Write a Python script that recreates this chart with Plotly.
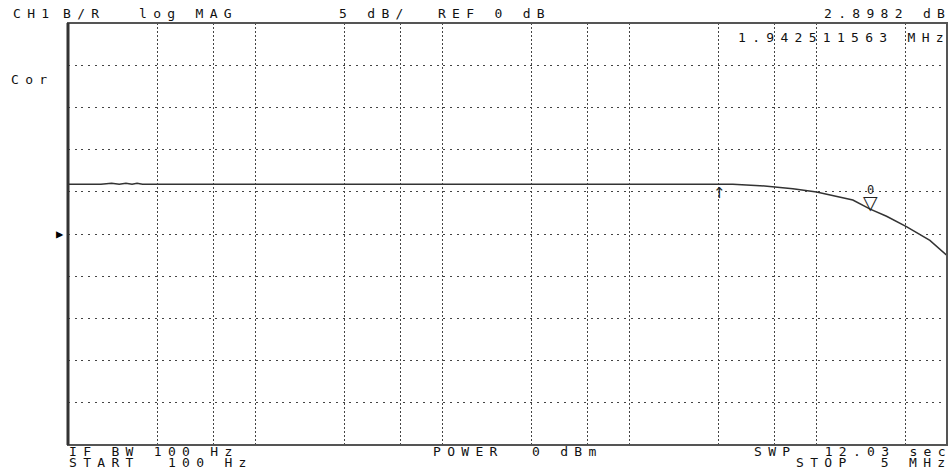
import math
import plotly.graph_objects as go

# ---------------- data ----------------
freq_hz = [100, 150, 171, 188, 204, 220, 234, 250, 1000, 10000, 100000,
           358000, 500000, 601000, 750000, 1004000, 1569000, 1942511,
           2376000, 3050000, 4050000, 5000000]
mag_db = [5.90, 5.90, 6.02, 5.90, 6.02, 5.90, 6.02, 5.90, 5.90, 5.90, 5.90,
          5.88, 5.73, 5.59, 5.37, 4.98, 4.03, 2.95,
          2.10, 0.85, -0.75, -2.55]

x_grid_hz = [300, 600, 1e3, 3e3, 6e3, 1e4, 3e4, 6e4, 1e5, 3e5, 6e5, 1e6, 3e6]
start_hz = 100
stop_hz = 5e6
ref_db = 0
scale_db = 5
n_div = 10
marker_freq_hz = 1942511.563
marker_db = 2.8982
ref_marker_hz = 305000
ref_marker_db = 5.90

# ---------------- layout geometry ----------------
W, H = 949, 473
L, R, T, B = 68, 2, 23, 28
PW, PH = W - L - R, H - T - B
FONT = "DejaVu Sans Mono"
TXT = "#111111"


def paper(px, py):
    return (px - L) / PW, (H - B - py) / PH


status_texts = [
    ("CH1", 12, 13), ("B/R", 62, 13), ("log MAG", 138, 13),
    (f"{scale_db} dB/  REF {ref_db} dB", 338, 13),
    (f"{marker_db:.4f} dB", 823, 13),
    (f"{marker_freq_hz/1e6:.9f} MHz", 737, 38),
    ("Cor", 10, 79),
    ("IF BW 100 Hz", 68, 451), ("POWER  0 dBm", 432, 451),
    ("SWP  12.03 sec", 753, 451),
    (f"START  {start_hz} Hz", 68, 462), (f"STOP  {stop_hz/1e6:g} MHz", 795, 462),
]

fig = go.Figure()
fig.add_trace(go.Scatter(
    x=freq_hz, y=mag_db, mode="lines",
    line=dict(color="#333333", width=1.5), hoverinfo="skip", showlegend=False,
))

annotations = []
for text, px, py in status_texts:
    xp, yp = paper(px, py)
    annotations.append(dict(
        text=text, x=xp, y=yp, xref="paper", yref="paper",
        xanchor="left", yanchor="middle", align="left", showarrow=False,
        font=dict(family=FONT, size=13, color=TXT), borderpad=0,
    ))

# reference-level pointer on the left edge
annotations.append(dict(
    text="▶", x=0, y=ref_db, xref="paper", yref="y", xanchor="right",
    yanchor="middle", showarrow=False, xshift=-3, borderpad=0,
    font=dict(family=FONT, size=12, color="#000000"),
))
# active marker (triangle + label)
annotations.append(dict(
    text="▽", x=math.log10(marker_freq_hz), y=marker_db, xref="x", yref="y",
    xanchor="center", yanchor="bottom", showarrow=False, borderpad=0, yshift=-4,
    font=dict(family="DejaVu Sans", size=19, color="#222222"),
))
annotations.append(dict(
    text="0", x=math.log10(marker_freq_hz), y=marker_db, xref="x", yref="y",
    xanchor="center", yanchor="bottom", showarrow=False, borderpad=0, yshift=12,
    font=dict(family=FONT, size=12, color="#222222"),
))
# reference marker
annotations.append(dict(
    text="↑", x=math.log10(ref_marker_hz), y=ref_marker_db, xref="x", yref="y",
    xanchor="center", yanchor="top", showarrow=False, borderpad=0, yshift=1,
    font=dict(family="DejaVu Sans", size=15, color="#222222"),
))

half = scale_db * n_div / 2
fig.update_layout(
    width=W, height=H, autosize=False,
    margin=dict(l=L, r=R, t=T, b=B, pad=0, autoexpand=False),
    paper_bgcolor="white", plot_bgcolor="white",
    showlegend=False,
    xaxis=dict(type="log", range=[math.log10(start_hz), math.log10(stop_hz)],
               tickvals=x_grid_hz, showticklabels=False, ticks="",
               showgrid=True, gridcolor="#444444", gridwidth=1,
               griddash="2px,2px", zeroline=False, showline=False,
               automargin=False),
    yaxis=dict(range=[ref_db - half, ref_db + half], dtick=scale_db,
               tick0=ref_db, showticklabels=False, ticks="",
               showgrid=True, gridcolor="#444444", gridwidth=1,
               griddash="2px,4.7px", zeroline=False, showline=False,
               automargin=False),
    annotations=annotations,
    shapes=[
        dict(type="rect", xref="paper", yref="paper", x0=0, x1=1, y0=0, y1=1,
             line=dict(color="#555555", width=2)),
        dict(type="line", xref="paper", yref="paper", x0=0, x1=0, y0=0, y1=1,
             line=dict(color="#333333", width=3)),
    ],
)

# wide character pitch of the analyser's screen font (no trailing gap)
post = """
document.body.style.margin = '0';
document.body.style.padding = '0';
var NS = 'http://www.w3.org/2000/svg';
var gd = document.getElementById('{plot_id}');
gd.querySelectorAll('.annotation-text').forEach(function(t){
  var s = t.textContent;
  if (s.length > 1) {
    while (t.firstChild) { t.removeChild(t.firstChild); }
    var a = document.createElementNS(NS, 'tspan');
    a.textContent = s.slice(0, -1);
    a.style.letterSpacing = '6.3px';
    var b = document.createElementNS(NS, 'tspan');
    b.textContent = s.slice(-1);
    t.appendChild(a); t.appendChild(b);
  }
});
"""

fig.write_html("out.html", post_script=post, config={"displayModeBar": False})
